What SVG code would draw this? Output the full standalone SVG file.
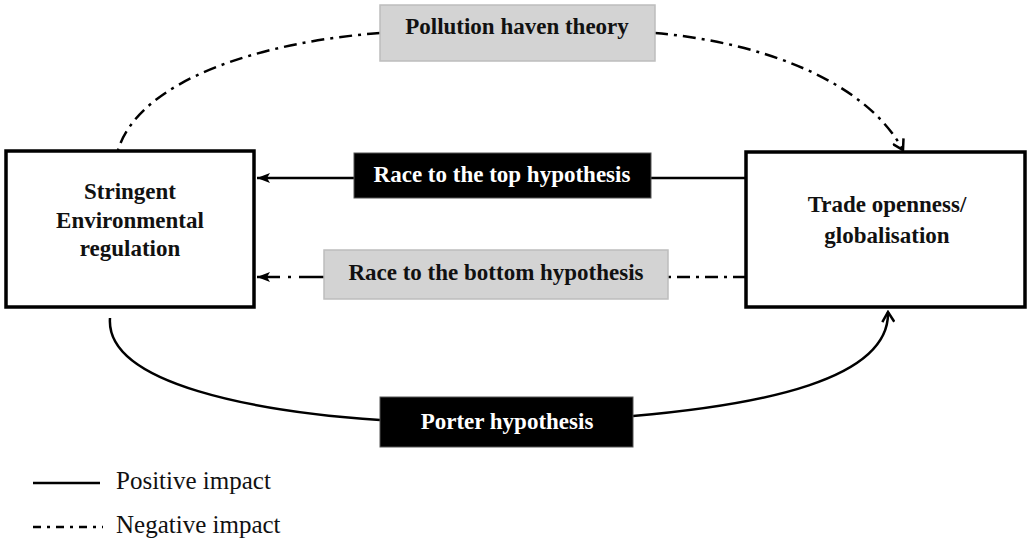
<svg xmlns="http://www.w3.org/2000/svg" width="1028" height="539" viewBox="0 0 1028 539">
<defs>
<style>
.box{fill:#fff;stroke:#000;stroke-width:3.5}
.gray{fill:#d3d3d3;stroke:#bdbdbd;stroke-width:1.5}
.black{fill:#000;stroke:#555;stroke-width:1}
.t{font-family:"Liberation Serif","Times New Roman",serif;font-weight:bold;font-size:23px;text-anchor:middle;fill:#111}
.tw{fill:#fff}
.leg{font-family:"Liberation Serif","Times New Roman",serif;font-size:25px;fill:#111}
.pos{fill:none;stroke:#000;stroke-width:2.5}
.neg{fill:none;stroke:#000;stroke-width:2.5;stroke-dasharray:13 6 3 6}
</style>
<marker id="filled" viewBox="0 0 13 10" refX="13" refY="5" markerWidth="13" markerHeight="10" markerUnits="userSpaceOnUse" orient="auto">
<path d="M13,5 L0,0 L3,5 L0,10 Z" fill="#000"/>
</marker>
<marker id="open" viewBox="0 0 14 14" refX="12" refY="7" markerWidth="14" markerHeight="14" markerUnits="userSpaceOnUse" orient="auto">
<path d="M2,1 L12,7 L2,13" fill="none" stroke="#000" stroke-width="2.5"/>
</marker>
</defs>
<rect width="1028" height="539" fill="#fff"/>

<g id="connectors">
<line class="pos" x1="746" y1="178" x2="651" y2="178"/>
<line class="pos" x1="354" y1="178" x2="257" y2="178" marker-end="url(#filled)"/>
<line class="neg" x1="746" y1="277" x2="668" y2="277"/>
<path class="neg" d="M324,277 L257,277" marker-end="url(#filled)" style="stroke-dasharray:25 8 3 8"/>
<path class="neg" d="M380,33 C260,42 140,80 118,150"/>
<path class="neg" d="M655,33 C760,42 865,80 903,150" marker-end="url(#open)"/>
<path class="pos" d="M110,318 C105,385 260,412 380,420"/>
<path class="pos" d="M633,416 C760,405 890,380 888,312" marker-end="url(#open)"/>
</g>

<g id="stringent">
<rect class="box" x="6" y="151" width="248" height="156"/>
<text class="t" x="130" y="199">Stringent</text>
<text class="t" x="130" y="228">Environmental</text>
<text class="t" x="130" y="256">regulation</text>
</g>

<g id="trade">
<rect class="box" x="746" y="152" width="279" height="155"/>
<text class="t" x="887" y="212">Trade openness/</text>
<text class="t" x="887" y="243">globalisation</text>
</g>

<g id="pollution">
<rect class="gray" x="380" y="5" width="275" height="56"/>
<text class="t" x="517" y="34">Pollution haven theory</text>
</g>

<g id="race-top">
<rect class="black" x="354" y="153" width="297" height="45"/>
<text class="t tw" x="502" y="182">Race to the top hypothesis</text>
</g>

<g id="race-bottom">
<rect class="gray" x="324" y="250" width="344" height="49"/>
<text class="t" x="496" y="280">Race to the bottom hypothesis</text>
</g>

<g id="porter">
<rect class="black" x="380" y="397" width="253" height="50"/>
<text class="t tw" x="507" y="429">Porter hypothesis</text>
</g>

<g id="legend">
<line class="pos" x1="33" y1="483" x2="100" y2="483"/>
<text class="leg" x="116" y="489">Positive impact</text>
<line class="neg" x1="33" y1="527" x2="103" y2="527" style="stroke-dasharray:8 6 3 6"/>
<text class="leg" x="116" y="533">Negative impact</text>
</g>
</svg>
